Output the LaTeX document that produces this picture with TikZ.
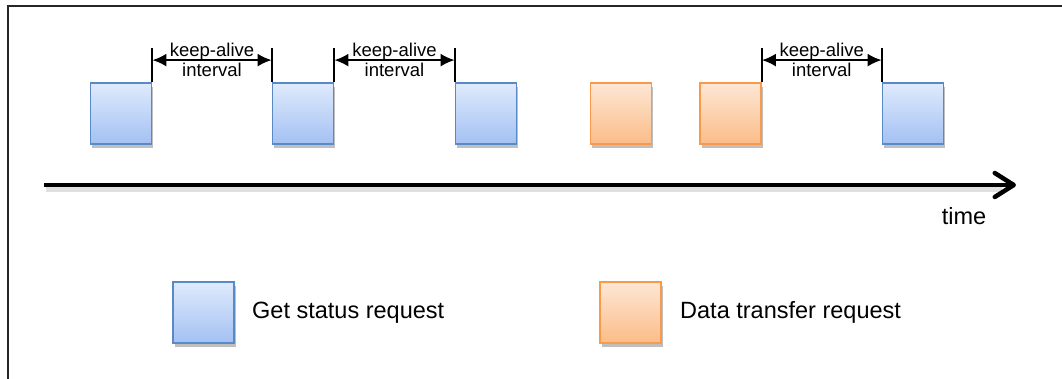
\documentclass[tikz,border=0pt]{standalone}
\usepackage{fontspec}
\setmainfont{Liberation Sans}
\usetikzlibrary{arrows.meta,shadows,calc}
\definecolor{bluedge}{HTML}{5A8AC6}
\definecolor{bluetop}{HTML}{DFEAFC}
\definecolor{bluebot}{HTML}{A3C1F3}
\definecolor{oredge}{HTML}{F9994A}
\definecolor{ortop}{HTML}{FDE7D5}
\definecolor{orbot}{HTML}{FBBC88}
\tikzset{
  req/.style={rectangle, minimum size=61pt, inner sep=0pt, line width=1.8pt,
    drop shadow={shadow xshift=1.5pt, shadow yshift=-3.5pt, opacity=0.25, fill=black}},
  getreq/.style={req, draw=bluedge, top color=bluetop, bottom color=bluebot},
  datareq/.style={req, draw=oredge, top color=ortop, bottom color=orbot},
  kalabel/.style={font=\fontsize{18.5}{20}\selectfont, align=center, inner sep=0pt},
  katick/.style={line width=2pt},
  kaarrow/.style={line width=2pt, {Latex[length=14pt,width=13pt]}-{Latex[length=14pt,width=13pt]}},
  legendtext/.style={font=\fontsize{23.5}{28}\selectfont, anchor=west, inner sep=0pt},
  axis/.style={line width=4.5pt, -{Straight Barb[length=19pt,width=24pt,line cap=round,line join=round]}},
}
\begin{document}
\begin{tikzpicture}[x=1pt,y=-1pt]
\useasboundingbox (0,0) rectangle (1062,378);
% frame
\draw[line width=2pt, black!85] (8,380) -- (8,6) -- (1064,6);

% time axis
\coordinate (ax0) at (44,185);
\coordinate (ax1) at (1016,185);
\draw[line width=5pt, black!12] ($(ax0)+(2,4)$) -- ($(ax1)+(-14,4)$);
\draw[axis] (ax0) -- (ax1);
\node[font=\fontsize{23.5}{28}\selectfont, anchor=base, inner sep=0pt] (time) at (964,224) {time};

% request boxes
\node[getreq] (b1) at (121,113.5) {};
\node[getreq] (b2) at (303,113.5) {};
\node[getreq] (b3) at (486,113.5) {};
\node[datareq] (d1) at (621,113.5) {};
\node[datareq] (d2) at (730.5,113.5) {};
\node[getreq] (b4) at (913,113.5) {};

% keep-alive intervals
\foreach \l/\r/\n in {b1/b2/1, b2/b3/2, d2/b4/3}{
  \coordinate (t\n a) at ($(\l.north east)+(0,-34)$);
  \coordinate (t\n b) at ($(\r.north west)+(0,-34)$);
  \coordinate (m\n a) at ($(\l.north east)+(0,-22)$);
  \coordinate (m\n b) at ($(\r.north west)+(0,-22)$);
  \draw[katick] (\l.north east) -- (t\n a);
  \draw[katick] (\r.north west) -- (t\n b);
  \draw[kaarrow] (m\n a) -- (m\n b);
  \node[kalabel, anchor=base] (ka\n) at ($(m\n a)!0.5!(m\n b)+(0,-4)$) {keep-alive};
  \node[kalabel, anchor=base] (iv\n) at ($(m\n a)!0.5!(m\n b)+(0,16)$) {interval};
}

% legend
\node[getreq] (lg1) at (203.5,312.5) {};
\node[legendtext] (lt1) at (252,312.5) {Get status request};
\node[datareq] (lg2) at (630.5,312.5) {};
\node[legendtext] (lt2) at (680,312.5) {Data transfer request};
\end{tikzpicture}
\end{document}
